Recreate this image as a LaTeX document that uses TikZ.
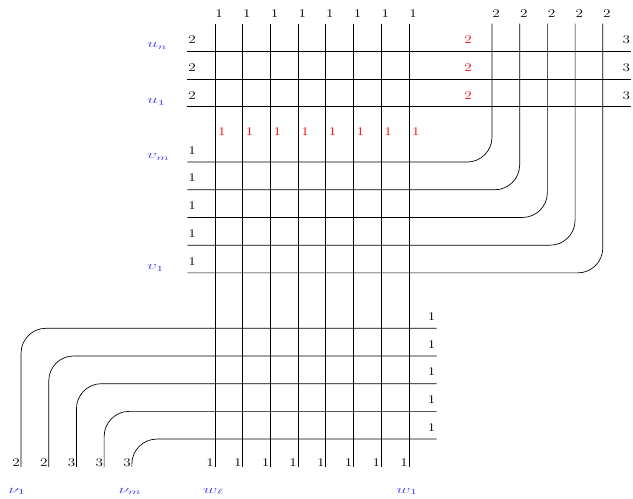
\documentclass[tikz,border=0pt]{standalone}
\usepackage{graphicx}
\usetikzlibrary{positioning}
\definecolor{lblblue}{RGB}{70,70,245}
\newcommand{\wide}[1]{\scalebox{1.3}[1]{#1}}
\newcommand{\wider}[1]{\scalebox{1.7}[1]{#1}}
\tikzset{
  wire/.style={line width=0.7pt, black, rounded corners=0.9cm},
  weight/.style={font=\fontsize{12}{14}\selectfont, inner sep=1pt},
  redweight/.style={weight, text=red},
  strandname/.style={font=\fontsize{12}{14}\selectfont, text=lblblue, inner sep=1pt},
}

\begin{document}
\begin{tikzpicture}[x=1cm,y=1cm]
  \useasboundingbox (-7.76,1.85) rectangle (15.09,-16.16);
  % rows u_n .. u_1
  \foreach \r in {0,1,2} {
    \draw[wire] (-1,-\r) -- (15,-\r);
    \node[weight, anchor=south west] (ul\r) at (-1,-\r+0.22) {\wide{2}};
    \node[redweight, anchor=south] (ur\r) at (9.14,-\r+0.22) {\wide{2}};
    \node[weight, anchor=south east] (ue\r) at (15.03,-\r+0.22) {\wide{3}};
  }
  % vertical strands w
  \foreach \i in {0,...,7} {
    \draw[wire] (\i,1) -- (\i,-15);
    \node[weight, anchor=south] (wt\i) at (\i+0.15,1.19) {\wide{1}};
    \node[redweight, anchor=south] (wr\i) at (\i+0.25,-3.1) {\wide{1}};
    \node[weight, anchor=base east] (wb\i) at (\i,-15) {\wide{1}};
  }
  % rows v_m .. v_1 turning up
  \foreach \j in {0,...,4} {
    \draw[wire] (10+\j,1) -- (10+\j,-4-\j) -- (-1,-4-\j);
    \node[weight, anchor=south] (vt\j) at (10+\j+0.15,1.19) {\wide{2}};
    \node[weight, anchor=south west] (vl\j) at (-1,-4-\j+0.24) {\wide{1}};
  }
  % rows turning down to nu
  \foreach \k/\n in {0/2,1/2,2/3,3/3,4/3} {
    \draw[wire] (8,-10-\k) -- (-7+\k,-10-\k) -- (-7+\k,-15);
    \node[weight, anchor=base east] (nr\k) at (8,-10-\k+0.28) {\wide{1}};
    \node[weight, anchor=base east] (nb\k) at (-7+\k,-15) {\wide{\n}};
  }
  % names
  \node[strandname, anchor=base west] (un) at (-2.5,0.12) {\wider{$u_n$}};
  \node[strandname, anchor=base west] (u1) at (-2.5,-1.88) {\wider{$u_1$}};
  \node[strandname, anchor=base west] (vm) at (-2.5,-3.88) {\wider{$v_m$}};
  \node[strandname, anchor=base west] (v1) at (-2.5,-7.88) {\wider{$v_1$}};
  \node[strandname, anchor=base west] (nu1) at (-7.5,-15.95) {\wider{$\nu_1$}};
  \node[strandname, anchor=base west] (num) at (-3.52,-15.95) {\wider{$\nu_m$}};
  \node[strandname, anchor=base west] (wl) at (-0.47,-15.95) {\wider{$w_\ell$}};
  \node[strandname, anchor=base west] (w1) at (6.5,-15.95) {\wider{$w_1$}};
\end{tikzpicture}
\end{document}
